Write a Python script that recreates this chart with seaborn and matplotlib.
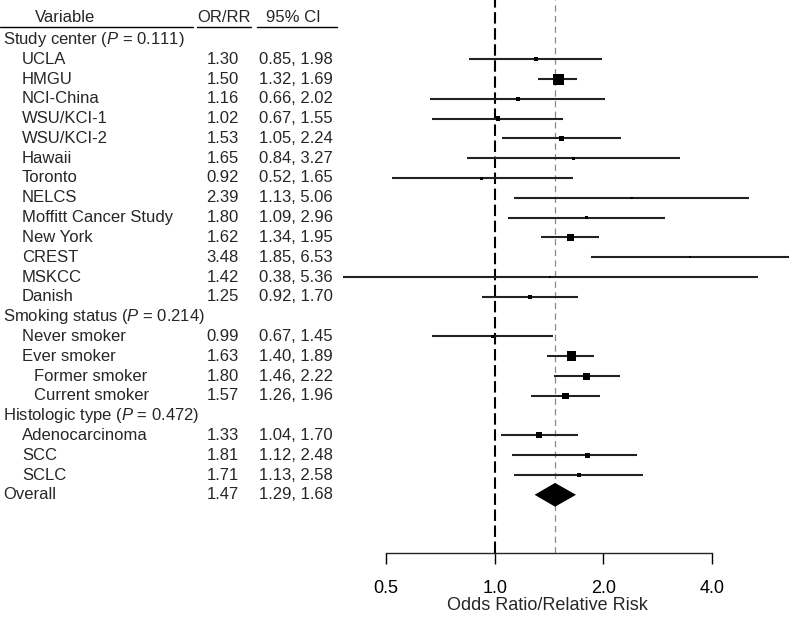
import numpy as np
import pandas as pd
import seaborn as sns
import matplotlib.pyplot as plt
from matplotlib.ticker import NullLocator, FixedLocator, FixedFormatter
from matplotlib.transforms import blended_transform_factory

# rows of the forest plot (headings have no estimate)
variables = ["Study center ($\\it{P}$ = 0.111)", "UCLA", "HMGU", "NCI-China", "WSU/KCI-1",
             "WSU/KCI-2", "Hawaii", "Toronto", "NELCS", "Moffitt Cancer Study", "New York",
             "CREST", "MSKCC", "Danish", "Smoking status ($\\it{P}$ = 0.214)", "Never smoker",
             "Ever smoker", "Former smoker", "Current smoker", "Histologic type ($\\it{P}$ = 0.472)",
             "Adenocarcinoma", "SCC", "SCLC", "Overall"]
level = [0, 1, 1, 1, 1, 1, 1, 1, 1, 1, 1, 1, 1, 1, 0, 1, 1, 2, 2, 0, 1, 1, 1, 0]
estimate = [np.nan, 1.30, 1.50, 1.16, 1.02, 1.53, 1.65, 0.92, 2.39, 1.80, 1.62, 3.48, 1.42, 1.25,
            np.nan, 0.99, 1.63, 1.80, 1.57, np.nan, 1.33, 1.81, 1.71, 1.47]
lower = [np.nan, 0.85, 1.32, 0.66, 0.67, 1.05, 0.84, 0.52, 1.13, 1.09, 1.34, 1.85, 0.38, 0.92,
         np.nan, 0.67, 1.40, 1.46, 1.26, np.nan, 1.04, 1.12, 1.13, 1.29]
upper = [np.nan, 1.98, 1.69, 2.02, 1.55, 2.24, 3.27, 1.65, 5.06, 2.96, 1.95, 6.53, 5.36, 1.70,
         np.nan, 1.45, 1.89, 2.22, 1.96, np.nan, 1.70, 2.48, 2.58, 1.68]
# study weight shown as box side (pixels)
box_px = [0, 4, 11, 3.5, 4.5, 4.5, 3, 3, 2.5, 3, 7.5, 2.5, 2, 4, 0, 3.5, 9.5, 7, 6.5, 0, 6, 5, 4, 0]

xticks = [0.5, 1.0, 2.0, 4.0]
xtick_labels = ["0.5", "1.0", "2.0", "4.0"]

sns.set_style("white")
plt.rcParams['font.family'] = ['Liberation Sans', 'DejaVu Sans']
plt.rcParams['mathtext.fontset'] = 'custom'
plt.rcParams['mathtext.rm'] = 'Liberation Sans'
plt.rcParams['mathtext.it'] = 'Liberation Sans:italic'

W, H = 789, 620
fig = plt.figure(figsize=(W / 100, H / 100), dpi=100)
axis_px = 553
ax = fig.add_axes([0, (H - axis_px) / H, 1, axis_px / H])

df = pd.DataFrame({"variable": variables, "level": level, "est": estimate,
                   "lo": lower, "hi": upper, "box": box_px})
df["row"] = np.arange(1, len(df) + 1)

studies = df.dropna(subset=["est"]).iloc[:-1]
overall = df.iloc[-1]

ax.set_xscale('log', base=2)
# map 0.5 -> 386px and 4.0 -> 712px
ppd = (712 - 386) / 3.0
ax.set_xlim(0.5 * 2 ** (-386 / ppd), 0.5 * 2 ** ((W - 386) / ppd))
r0, dr = 19.6, 19.8
ax.set_ylim((axis_px - r0) / dr, -r0 / dr)

ax.axvline(1.0, color='black', lw=1.5, dashes=(5.5, 2.2), zorder=1)
ax.axvline(overall["est"], color='#888888', lw=0.9, dashes=(5, 3.5), zorder=1)

ax.hlines(studies["row"], studies["lo"], studies["hi"], color='#222222', lw=1.5, zorder=2)
sns.scatterplot(data=studies, x="est", y="row", marker='s', color='black', linewidth=0,
                s=(studies["box"] * 0.72) ** 2, legend=False, ax=ax, zorder=3)

# summary diamond
yr = overall["row"]
ax.fill([overall["lo"], overall["est"], overall["hi"], overall["est"]],
        [yr, yr - 0.6, yr, yr + 0.6], color='black', lw=0, zorder=3)

for s in ['left', 'right', 'top']:
    ax.spines[s].set_visible(False)
ax.spines['bottom'].set_bounds(xticks[0], xticks[-1])
ax.spines['bottom'].set_linewidth(1.0)
ax.xaxis.set_major_locator(FixedLocator(xticks))
ax.xaxis.set_major_formatter(FixedFormatter(xtick_labels))
ax.xaxis.set_minor_locator(NullLocator())
ax.tick_params(axis='x', direction='out', length=8.2, width=1.0, pad=11, labelsize=13,
               bottom=True, colors='black')
ax.set_yticks([])
ax.set_xlabel("")
ax.set_ylabel("")

trans = blended_transform_factory(fig.transFigure, ax.transData)
fs = 12
indent_px = [3, 22, 34]
for _, r in df.iterrows():
    ax.text(indent_px[r["level"]] / W, r["row"], r["variable"], transform=trans,
            ha='left', va='center', fontsize=fs)
    if not np.isnan(r["est"]):
        ax.text(239 / W, r["row"], f"{r['est']:.2f}", transform=trans,
                ha='right', va='center', fontsize=fs)
        ax.text(333 / W, r["row"], f"{r['lo']:.2f}, {r['hi']:.2f}", transform=trans,
                ha='right', va='center', fontsize=fs)

# column headers with underlines
hdr_y = (18 - r0) / dr
ax.text(65 / W, hdr_y, "Variable", transform=trans, ha='center', va='center', fontsize=fs)
ax.text(224 / W, hdr_y, "OR/RR", transform=trans, ha='center', va='center', fontsize=fs)
ax.text(293 / W, hdr_y, "95% CI", transform=trans, ha='center', va='center', fontsize=fs)
ul_y = (27 - r0) / dr
for x0, x1 in [(0, 193), (197, 251), (257, 337)]:
    ax.plot([x0 / W, x1 / W], [ul_y, ul_y], transform=trans, color='black', lw=1.0,
            clip_on=False)

fig.text(547 / W, 1 - 606 / H, "Odds Ratio/Relative Risk", ha='center', va='center', fontsize=13)

fig.savefig("out.png", dpi=100)
